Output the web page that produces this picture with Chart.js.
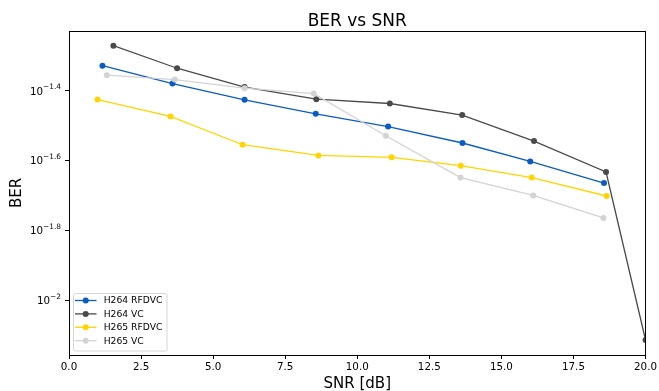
<!DOCTYPE html>
<html>
<head>
<meta charset="utf-8">
<script src="https://cdn.jsdelivr.net/npm/chart.js@4/dist/chart.umd.min.js"></script>
<style>
  html, body { margin: 0; padding: 0; background: #fff; }
  canvas { display: block; }
</style>
</head>
<body>
<canvas id="berChart" width="659" height="391"></canvas>
<script>
// values (SNR in dB, BER on a log axis)
const seriesLabels = ['H264 RFDVC', 'H264 VC', 'H265 RFDVC', 'H265 VC'];
const seriesColors = ['#0a5bc4', '#4a4a4a', '#ffd400', '#d3d3d3'];

const h264RfdvcSnr = [1.16, 3.59, 6.09, 8.56, 11.07, 13.65, 16.0, 18.56];
const h264RfdvcBer = [0.04692, 0.04169, 0.03745, 0.03415, 0.03141, 0.02818, 0.02495, 0.02164];

const h264VcSnr = [1.54, 3.75, 6.09, 8.58, 11.13, 13.64, 16.13, 18.63, 20.0];
const h264VcBer = [0.05354, 0.04613, 0.04074, 0.03762, 0.03656, 0.03388, 0.02854, 0.02328, 0.007691];

const h265RfdvcSnr = [0.99, 3.52, 6.02, 8.65, 11.19, 13.59, 16.05, 18.65];
const h265RfdvcBer = [0.03753, 0.03357, 0.02786, 0.02596, 0.02564, 0.02427, 0.02244, 0.01987];

const h265VcSnr = [1.31, 3.67, 6.09, 8.49, 10.99, 13.58, 16.10, 18.54];
const h265VcBer = [0.04406, 0.04280, 0.04045, 0.03903, 0.02955, 0.02244, 0.01995, 0.01719];

// axis ticks
const snrTicks = [0, 2.5, 5, 7.5, 10, 12.5, 15, 17.5, 20];
const berTickExponents = [-2, -1.8, -1.6, -1.4];
const berMin = Math.pow(10, -2.157);
const berMax = Math.pow(10, -1.2294);

const FONT = "'DejaVu Sans', sans-serif";

function toPoints(xs, ys) {
  return xs.map((x, i) => ({ x: x, y: ys[i] }));
}

const seriesData = [
  toPoints(h264RfdvcSnr, h264RfdvcBer),
  toPoints(h264VcSnr, h264VcBer),
  toPoints(h265RfdvcSnr, h265RfdvcBer),
  toPoints(h265VcSnr, h265VcBer)
];

const datasets = seriesLabels.map((label, i) => ({
  label: label,
  data: seriesData[i],
  borderColor: seriesColors[i],
  backgroundColor: seriesColors[i],
  borderWidth: 1.3,
  pointRadius: 3,
  pointBorderWidth: 0,
  pointHoverRadius: 3,
  order: seriesLabels.length - i, // matplotlib draws later series on top
  tension: 0
}));

// frame, titles, log tick labels with superscripts, and the matplotlib-like legend
const decorPlugin = {
  id: 'decor',
  afterDraw(chart) {
    const ctx = chart.ctx;
    const a = chart.chartArea;
    ctx.save();

    // axes frame
    ctx.strokeStyle = '#000';
    ctx.lineWidth = 1;
    ctx.strokeRect(Math.round(a.left) + 0.5, Math.round(a.top) + 0.5,
      Math.round(a.right - a.left) - 1, Math.round(a.bottom - a.top));

    // title
    ctx.fillStyle = '#000';
    ctx.textAlign = 'center';
    ctx.textBaseline = 'alphabetic';
    ctx.font = '17px ' + FONT;
    ctx.fillText('BER vs SNR', (a.left + a.right) / 2, 26);

    // x label
    ctx.font = '15px ' + FONT;
    ctx.fillText('SNR [dB]', (a.left + a.right) / 2, 388);

    // y label
    ctx.save();
    ctx.translate(21, (a.top + a.bottom) / 2);
    ctx.rotate(-Math.PI / 2);
    ctx.fillText('BER', 0, 0);
    ctx.restore();

    // y tick labels 10^e
    const yScale = chart.scales.y;
    ctx.textAlign = 'left';
    berTickExponents.forEach(e => {
      const y = yScale.getPixelForValue(Math.pow(10, e));
      const expText = '\u2212' + (Number.isInteger(e) ? String(Math.abs(e)) : Math.abs(e).toFixed(1));
      ctx.font = '7.4px ' + FONT;
      const we = ctx.measureText(expText).width;
      ctx.font = '10.3px ' + FONT;
      const wb = ctx.measureText('10').width;
      const right = a.left - 8;
      ctx.fillText('10', right - we - wb, y + 4);
      ctx.font = '7.4px ' + FONT;
      ctx.fillText(expText, right - we, y - 1.4);
    });

    // legend box
    const lx = a.left + 4, ly = a.bottom - 4.5 - 57.5;
    const lw = 93.5, lh = 57.5;
    ctx.beginPath();
    ctx.roundRect(lx + 0.5, ly + 0.5, lw, lh, 2);
    ctx.fillStyle = 'rgba(255,255,255,0.8)';
    ctx.fill();
    ctx.strokeStyle = '#d6d6d6';
    ctx.lineWidth = 1;
    ctx.stroke();

    ctx.font = '9.2px ' + FONT;
    ctx.textBaseline = 'middle';
    chart.data.datasets.forEach((ds, i) => {
      const ry = ly + 7.5 + i * 13.4;
      ctx.strokeStyle = ds.borderColor;
      ctx.lineWidth = 1.3;
      ctx.beginPath();
      ctx.moveTo(lx + 2, ry);
      ctx.lineTo(lx + 23.5, ry);
      ctx.stroke();
      ctx.fillStyle = ds.borderColor;
      ctx.beginPath();
      ctx.arc(lx + 12.7, ry, 3, 0, Math.PI * 2);
      ctx.fill();
      ctx.fillStyle = '#000';
      ctx.fillText(ds.label, lx + 30.7, ry + 0.5);
    });

    ctx.restore();
  }
};

new Chart(document.getElementById('berChart'), {
  type: 'line',
  data: { datasets: datasets },
  options: {
    responsive: false,
    animation: false,
    events: [],
    layout: { padding: { top: 31, right: 13, left: 0, bottom: 0 } },
    plugins: {
      legend: { display: false },
      tooltip: { enabled: false },
      title: { display: false }
    },
    scales: {
      x: {
        type: 'linear',
        min: 0,
        max: 20,
        afterBuildTicks: scale => { scale.ticks = snrTicks.map(v => ({ value: v })); },
        afterFit: scale => { scale.height = 36; },
        ticks: {
          color: '#000',
          font: { family: FONT, size: 10.3 },
          padding: 2,
          maxRotation: 0,
          autoSkip: false,
          callback: v => Number(v).toFixed(1)
        },
        grid: { drawOnChartArea: false, tickLength: 4, color: '#000' },
        border: { display: true, color: '#000' }
      },
      y: {
        type: 'logarithmic',
        min: berMin,
        max: berMax,
        afterBuildTicks: scale => { scale.ticks = berTickExponents.map(e => ({ value: Math.pow(10, e) })); },
        afterFit: scale => { scale.width = 69; },
        ticks: {
          color: '#000',
          font: { family: FONT, size: 10.3 },
          callback: () => ''
        },
        grid: { drawOnChartArea: false, tickLength: 4, color: '#000' },
        border: { display: true, color: '#000' }
      }
    }
  },
  plugins: [decorPlugin]
});
</script>
</body>
</html>
